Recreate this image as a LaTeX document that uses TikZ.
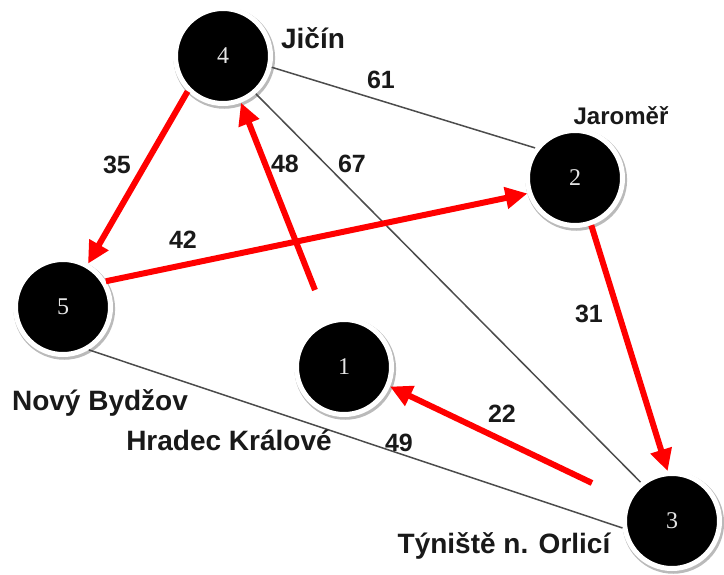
\documentclass[tikz,border=0pt]{standalone}
\usepackage{fontspec}
\setmainfont{Liberation Sans}
\newfontfamily\numfont{Liberation Serif}
\usetikzlibrary{arrows.meta,shadows}
\begin{document}
\begin{tikzpicture}[x=1pt,y=-1pt,
  city/.style={circle, fill=black, draw=white, line width=5pt, minimum size=95pt,
    inner sep=0pt, outer sep=2.5pt, font=\numfont\fontsize{24}{24}\selectfont, text=black!10,
    drop shadow={shadow xshift=1.2pt, shadow yshift=-1.8pt, shadow scale=1.07, fill=black!45, opacity=0.6}},
  road/.style={draw=black!70, line width=1.5pt},
  route/.style={draw=red, line width=6pt, -{Triangle[length=22pt,width=21pt]}},
  place/.style={font=\bfseries\fontsize{28}{28}\selectfont, text=black!90, inner sep=0pt, anchor=base},
  dist/.style={font=\bfseries\fontsize{25}{25}\selectfont, text=black!90, inner sep=0pt, anchor=base}]
\fill[white] (0,0) rectangle (724,574);
\useasboundingbox (0,0) rectangle (724,574);

\node[city] (n4) at (223,56) {4};
\node[city] (n2) at (575,178) {2};
\node[city] (n5) at (63,307) {5};
\node[city] (n1) at (344,367) {1};
\node[city] (n3) at (672,521) {3};

\coordinate (c48) at (315,290);
\coordinate (c22) at (592,483);

\draw[road] (n4.-13) -- (n2.143);
\draw[road] (n4.-49) -- (n3.129);
\draw[road] (n5.-59) -- (n3.188);

\draw[route] (n4.225) -- (n5.60);
\draw[route] (n5.31) -- (n2.198);
\draw[route] (n2.-71) -- (n3.95);
\draw[route] (c48) -- (n4.-69);
\draw[route] (c22) -- (n1.-23);

\node[place] (l4) at (313,48) {Jičín};
\node[place, font=\bfseries\fontsize{24}{24}\selectfont] (l2) at (621,124) {Jaroměř};
\node[place] (l5) at (100,410) {Nový Bydžov};
\node[place] (l1) at (229,450) {Hradec Králové};
\node[place] (l3) at (504,553) {Týniště n. Orlicí};

\node[dist] (d61) at (381,88) {61};
\node[dist] (d67) at (352,172) {67};
\node[dist] (d35) at (117,173) {35};
\node[dist] (d48) at (285,172) {48};
\node[dist] (d42) at (183,248) {42};
\node[dist] (d31) at (589,322) {31};
\node[dist] (d22) at (502,422) {22};
\node[dist] (d49) at (399,451) {49};
\end{tikzpicture}
\end{document}
